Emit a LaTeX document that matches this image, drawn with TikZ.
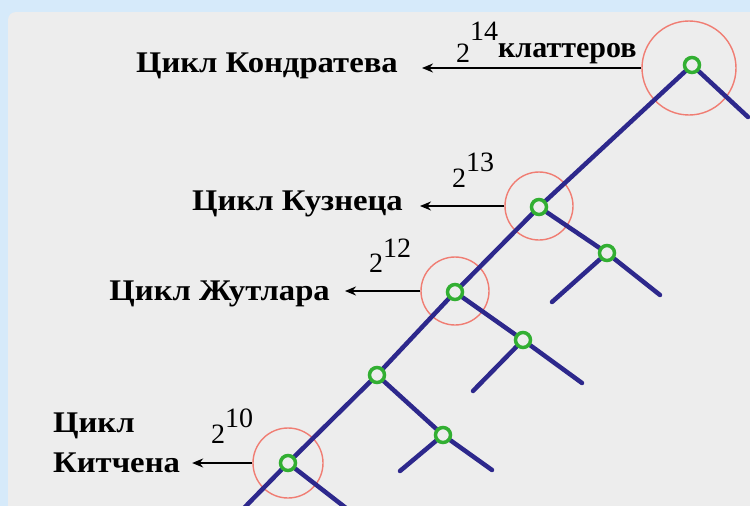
\documentclass[tikz,border=0pt]{standalone}
\usepackage{fontspec}
\setmainfont{Liberation Serif}
\usetikzlibrary{arrows.meta}
\definecolor{bggray}{RGB}{237,237,237}
\definecolor{framebl}{RGB}{214,234,250}
\definecolor{treeblue}{RGB}{45,40,140}
\definecolor{nodegreen}{RGB}{50,175,50}
\definecolor{ringred}{RGB}{240,125,115}
\newcommand{\wide}[1]{\scalebox{1.09}[1]{#1}}
\pgfdeclarelayer{back}
\pgfsetlayers{back,main}
\begin{document}
\begin{tikzpicture}[x=1pt,y=-1pt,
  tree/.style={draw=treeblue,line width=4.5pt,line cap=round},
  knot/.style={circle,draw=nodegreen,line width=3.5pt,minimum size=15pt,inner sep=0pt},
  ring/.style={circle,draw=ringred,line width=1.4pt,inner sep=0pt},
  lab/.style={font=\bfseries\fontsize{30}{40}\selectfont,inner sep=0pt},
  expo/.style={font=\fontsize{28}{30}\selectfont,inner sep=0pt},
  pointer/.style={draw=black,line width=2.8pt,-{Stealth[length=11pt,width=9pt]}}]
\useasboundingbox (0,0) rectangle (750,506);
% knots
\node[knot] (n14) at (692,65) {};
\node[knot] (n13) at (539,207) {};
\node[knot] (a13) at (607,253) {};
\node[knot] (n12) at (455,292) {};
\node[knot] (a12) at (523,340) {};
\node[knot] (n11) at (377,375) {};
\node[knot] (a11) at (443,435) {};
\node[knot] (n10) at (288,463) {};
\coordinate (e14) at (748,117);
\coordinate (e13r) at (660,295);
\coordinate (e13l) at (552,302);
\coordinate (e12r) at (582,383);
\coordinate (e12l) at (473,391);
\coordinate (e11r) at (492,470);
\coordinate (e11l) at (400,471);
\coordinate (e10l) at (244,508);
\coordinate (e10r) at (346,508);
\begin{pgfonlayer}{back}
\fill[framebl] (0,0) rectangle (750,506);
\fill[bggray] (8,506) [rounded corners=8pt] -- (8,12) [sharp corners] -- (750,12) -- (750,506) -- cycle;
\node[ring,minimum size=94pt] (r14) at (689,68) {};
\node[ring,minimum size=68pt] (r13) at (539,206) {};
\node[ring,minimum size=68pt] (r12) at (455,291) {};
\node[ring,minimum size=70pt] (r10) at (288,463) {};
\draw[tree] (n14) -- (e14);
\draw[tree] (n14) -- (n13);
\draw[tree] (n13) -- (n12);
\draw[tree] (n12) -- (n11);
\draw[tree] (n11) -- (n10);
\draw[tree] (n10) -- (e10l);
\draw[tree] (n10) -- (e10r);
\draw[tree] (n13) -- (a13);
\draw[tree] (a13) -- (e13r);
\draw[tree] (a13) -- (e13l);
\draw[tree] (n12) -- (a12);
\draw[tree] (a12) -- (e12r);
\draw[tree] (a12) -- (e12l);
\draw[tree] (n11) -- (a11);
\draw[tree] (a11) -- (e11r);
\draw[tree] (a11) -- (e11l);
\end{pgfonlayer}
% labels
\node[lab,anchor=base east] (l14) at (398,72) {\wide{Цикл Кондратева}};
\node[lab,anchor=base east] (l13) at (403,210) {\wide{Цикл Кузнеца}};
\node[lab,anchor=base east] (l12) at (330,300) {\wide{Цикл Жутлара}};
\node[lab,anchor=base west] (l10a) at (53,432) {\wide{Цикл}};
\node[lab,anchor=base west] (l10) at (53,472) {\wide{Китчена}};
\node[expo,anchor=base west] (x14) at (456,62) {2\raisebox{22pt}{14}};
\node[lab,anchor=base west] (kl) at (498,57) {клаттеров};
\node[expo,anchor=base west] (x13) at (452,187) {2\raisebox{16pt}{13}};
\node[expo,anchor=base west] (x12) at (369,272) {2\raisebox{15pt}{12}};
\node[expo,anchor=base west] (x10) at (211,443) {2\raisebox{16pt}{10}};
% arrows
\draw[pointer] (r14.west) -- ([xshift=24pt]l14.east |- r14.west);
\draw[pointer] (r13.west) -- ([xshift=17pt]l13.east |- r13.west);
\draw[pointer] (r12.west) -- ([xshift=15pt]l12.east |- r12.west);
\draw[pointer] (r10.west) -- ([xshift=12pt]l10.east |- r10.west);
\end{tikzpicture}
\end{document}
